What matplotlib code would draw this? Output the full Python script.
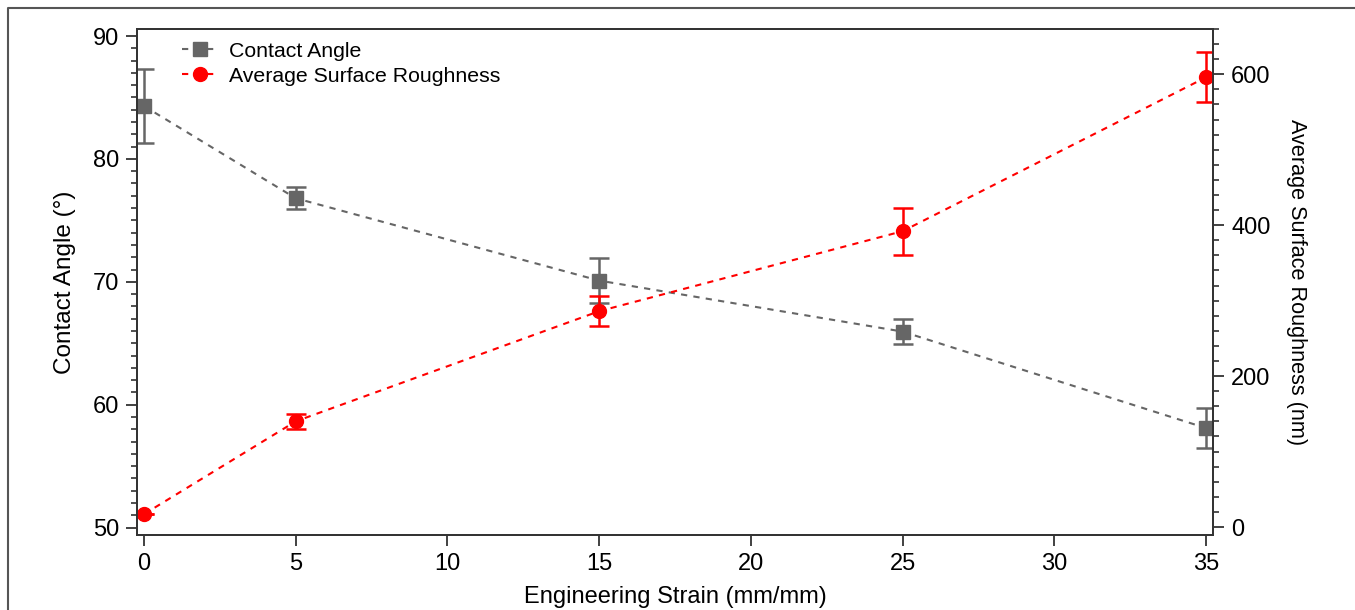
import matplotlib.pyplot as plt
from matplotlib.lines import Line2D
from matplotlib.ticker import MultipleLocator

# data
strain = [0, 5, 15, 25, 35]
contact_angle = [84.3, 76.8, 70.1, 65.95, 58.1]
contact_angle_err = [3.0, 0.9, 1.85, 1.05, 1.65]
roughness = [17, 140, 286, 392, 596]
roughness_err = [0, 10, 20, 31, 33]

gray = '#666666'
red = '#ff0000'
axis_col = '#333333'

plt.rcParams['font.family'] = ['Liberation Sans', 'DejaVu Sans']
plt.rcParams['font.size'] = 17

fig = plt.figure(figsize=(13.55, 6.10), dpi=100)
ax = fig.add_axes([137 / 1355, 1 - 535 / 610, (1213 - 137) / 1355, (535 - 29) / 610])
ax2 = ax.twinx()

# outer frame (top and left edges only visible)
fx = 8 / 1355
fy = 1 - 8 / 610
fig.add_artist(Line2D([fx, fx, 1], [0, fy, fy], transform=fig.transFigure,
                      color='#555555', lw=1.5))

ax.errorbar(strain, contact_angle, yerr=contact_angle_err, color=gray, ls=(0, (3, 3)), lw=1.5,
            marker='s', ms=9.5, capsize=7, capthick=1.8, elinewidth=1.8)
ax2.errorbar(strain, roughness, yerr=roughness_err, color=red, ls=(0, (3, 3)), lw=1.5,
             marker='o', ms=10, capsize=7, capthick=1.8, elinewidth=1.8)

ax.set_xlim(-0.23, 35.23)
ax.set_ylim(49.4, 90.57)
ax2.set_ylim(-10.6, 660)

ax.xaxis.set_major_locator(MultipleLocator(5))
ax.yaxis.set_major_locator(MultipleLocator(10))
ax.yaxis.set_minor_locator(MultipleLocator(1))
ax2.yaxis.set_major_locator(MultipleLocator(200))
ax2.yaxis.set_minor_locator(MultipleLocator(20))

for a in (ax, ax2):
    for s in a.spines.values():
        s.set_color(axis_col)
        s.set_linewidth(1.3)
    a.tick_params(which='major', direction='out', length=8, width=1.3, color=axis_col, pad=5,
                  labelsize=17)
    a.tick_params(which='minor', direction='out', length=4.5, width=1.2, color=axis_col)

ax.set_xlabel('Engineering Strain (mm/mm)', labelpad=8)
ax.set_ylabel('Contact Angle (°)', labelpad=12, fontsize=17.5)
ax2.set_ylabel('Average Surface Roughness (nm)', rotation=270, labelpad=26, fontsize=15.6)

# legend handles without error caps
leg_h1 = Line2D([], [], color=gray, ls=(0, (3, 3)), lw=1.5, marker='s', ms=9.5)
leg_h2 = Line2D([], [], color=red, ls=(0, (3, 3)), lw=1.5, marker='o', ms=10)
ax.legend([leg_h1, leg_h2], ['Contact Angle', 'Average Surface Roughness'], loc='upper left',
          bbox_to_anchor=(0.03, 1.0), frameon=False, handlelength=1.65, handletextpad=0.55,
          labelspacing=0.28, borderaxespad=0.2, fontsize=15.3)

plt.savefig('out.png', dpi=100)
